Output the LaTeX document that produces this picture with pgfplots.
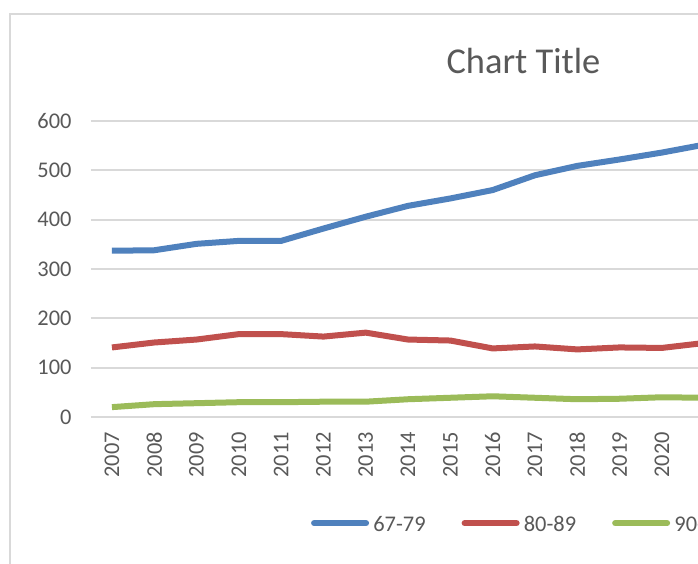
\documentclass[border=0pt]{standalone}
\usepackage{pgfplots}
\pgfplotsset{compat=1.18}
\usepackage{fontspec}
\setmainfont{Carlito}
\definecolor{txt}{HTML}{595959}
\definecolor{grd}{HTML}{D9D9D9}
\definecolor{s1}{HTML}{4F81BD}
\definecolor{s2}{HTML}{C0504D}
\definecolor{s3}{HTML}{9BBB59}
\begin{document}
\begin{tikzpicture}
\useasboundingbox (0,0) rectangle (523.5pt,422.25pt);
\clip (0,0) rectangle (523.5pt,422.25pt);
\fill[white] (0,0) rectangle (523.5pt,422.25pt);
\draw[grd, line width=1.9pt] (7.5pt,-20pt) rectangle (800pt,411.75pt);
\node[anchor=base, text=txt, font=\fontsize{27.3}{32}\selectfont, inner sep=0pt] at (392.6pt,366.75pt) {Chart Title};
\begin{axis}[
 at={(68.1pt,109.5pt)}, anchor=south west,
 scale only axis, width=697.95pt, height=222pt,
 xmin=-0.5, xmax=21.5, ymin=0, ymax=600,
 ytick={0,100,200,300,400,500,600},
 xtick={0,1,2,3,4,5,6,7,8,9,10,11,12,13},
 xticklabels={2007,2008,2009,2010,2011,2012,2013,2014,2015,2016,2017,2018,2019,2020},
 ymajorgrids, grid style={grd, line width=1.5pt},
 axis line style={draw=none}, major tick length=0pt,
 /pgf/number format/assume math mode=true,
 tick label style={text=txt, font=\fontsize{16.8}{20}\selectfont, inner sep=0pt},
 yticklabel style={anchor=east, xshift=-14.3pt},
 xticklabel style={yshift=-11.25pt, rotate=90, anchor=east},
 legend style={draw=none, fill=none, inner sep=0pt, outer sep=0pt,
   at={(0.2367,-0.3649)}, anchor=west, legend columns=3, text=txt,
   font=\fontsize{16.8}{20}\selectfont, nodes={inner sep=0pt},
   /tikz/every odd column/.append style={column sep=3.2pt},
   /tikz/every even column/.append style={column sep=27pt}},
 legend image code/.code={\draw[#1, line cap=round] (2.25pt,1.5pt) -- (41.25pt,1.5pt); \path[draw=none,fill=none] (0pt,0pt) (43.5pt,6.75pt);},
 every axis plot/.append style={line width=4.5pt, line join=round, no markers},
]
\addplot[s1] coordinates {(0,337)(1,338)(2,351)(3,357)(4,357)(5,382)(6,406)(7,428)(8,443)(9,460)(10,490)(11,509)(12,522)(13,536)(14,552)};
\addlegendentry{67-79}
\addplot[s2] coordinates {(0,141)(1,151)(2,157)(3,168)(4,168)(5,163)(6,171)(7,157)(8,155)(9,139)(10,143)(11,137)(12,141)(13,140)(14,150)};
\addlegendentry{80-89}
\addplot[s3] coordinates {(0,20)(1,26)(2,28)(3,30)(4,30)(5,31)(6,31)(7,36)(8,39)(9,42)(10,39)(11,36)(12,37)(13,40)(14,39)};
\addlegendentry{90-99}
\end{axis}
\end{tikzpicture}
\end{document}
